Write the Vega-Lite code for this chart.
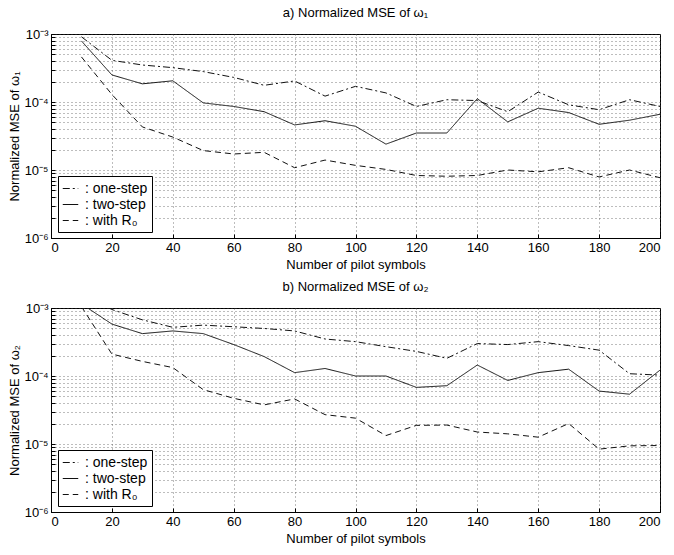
{
"$schema": "https://vega.github.io/schema/vega-lite/v6.json",
"padding": {"left": 7, "top": 6, "right": 6, "bottom": 4},
"spacing": 8,
"config": {
  "font": "Liberation Sans",
  "view": {"stroke": "black", "strokeWidth": 1},
  "title": {"fontSize": 13, "fontWeight": "normal", "offset": 8, "color": "black"},
  "axis": {"labelFontSize": 13, "titleFontSize": 13, "titleFontWeight": "normal", "labelColor": "black", "titleColor": "black", "grid": true, "gridDash": [1, 3], "gridColor": "#444", "gridWidth": 0.7, "domainColor": "black", "tickColor": "black", "tickSize": -4, "labelPadding": 7},
  "legend": {"labelFontSize": 13, "labelColor": "black"}
},
"data": {"values": [
{"p":"a","x":10,"m":"one-step","v":9.1e-4},{"p":"a","x":20,"m":"one-step","v":4.1e-4},{"p":"a","x":30,"m":"one-step","v":3.5e-4},{"p":"a","x":40,"m":"one-step","v":3.2e-4},{"p":"a","x":50,"m":"one-step","v":2.8e-4},{"p":"a","x":60,"m":"one-step","v":2.3e-4},{"p":"a","x":70,"m":"one-step","v":1.76e-4},{"p":"a","x":80,"m":"one-step","v":2.04e-4},{"p":"a","x":90,"m":"one-step","v":1.22e-4},{"p":"a","x":100,"m":"one-step","v":1.7e-4},{"p":"a","x":110,"m":"one-step","v":1.36e-4},{"p":"a","x":120,"m":"one-step","v":8.6e-5},{"p":"a","x":130,"m":"one-step","v":1.08e-4},{"p":"a","x":140,"m":"one-step","v":1.05e-4},{"p":"a","x":150,"m":"one-step","v":7.2e-5},{"p":"a","x":160,"m":"one-step","v":1.4e-4},{"p":"a","x":170,"m":"one-step","v":9.1e-5},{"p":"a","x":180,"m":"one-step","v":7.7e-5},{"p":"a","x":190,"m":"one-step","v":1.08e-4},{"p":"a","x":200,"m":"one-step","v":8.6e-5},
{"p":"a","x":10,"m":"two-step","v":7.9e-4},{"p":"a","x":20,"m":"two-step","v":2.5e-4},{"p":"a","x":30,"m":"two-step","v":1.85e-4},{"p":"a","x":40,"m":"two-step","v":2.05e-4},{"p":"a","x":50,"m":"two-step","v":9.7e-5},{"p":"a","x":60,"m":"two-step","v":8.6e-5},{"p":"a","x":70,"m":"two-step","v":7.2e-5},{"p":"a","x":80,"m":"two-step","v":4.6e-5},{"p":"a","x":90,"m":"two-step","v":5.3e-5},{"p":"a","x":100,"m":"two-step","v":4.4e-5},{"p":"a","x":110,"m":"two-step","v":2.4e-5},{"p":"a","x":120,"m":"two-step","v":3.5e-5},{"p":"a","x":130,"m":"two-step","v":3.5e-5},{"p":"a","x":140,"m":"two-step","v":1.12e-4},{"p":"a","x":150,"m":"two-step","v":5.1e-5},{"p":"a","x":160,"m":"two-step","v":8.1e-5},{"p":"a","x":170,"m":"two-step","v":7.0e-5},{"p":"a","x":180,"m":"two-step","v":4.7e-5},{"p":"a","x":190,"m":"two-step","v":5.4e-5},{"p":"a","x":200,"m":"two-step","v":6.6e-5},
{"p":"a","x":10,"m":"with R₀","v":4.6e-4},{"p":"a","x":20,"m":"with R₀","v":1.29e-4},{"p":"a","x":30,"m":"with R₀","v":4.3e-5},{"p":"a","x":40,"m":"with R₀","v":3.05e-5},{"p":"a","x":50,"m":"with R₀","v":1.93e-5},{"p":"a","x":60,"m":"with R₀","v":1.72e-5},{"p":"a","x":70,"m":"with R₀","v":1.82e-5},{"p":"a","x":80,"m":"with R₀","v":1.08e-5},{"p":"a","x":90,"m":"with R₀","v":1.4e-5},{"p":"a","x":100,"m":"with R₀","v":1.17e-5},{"p":"a","x":110,"m":"with R₀","v":1.02e-5},{"p":"a","x":120,"m":"with R₀","v":8.3e-6},{"p":"a","x":130,"m":"with R₀","v":8.1e-6},{"p":"a","x":140,"m":"with R₀","v":8.3e-6},{"p":"a","x":150,"m":"with R₀","v":1.0e-5},{"p":"a","x":160,"m":"with R₀","v":9.4e-6},{"p":"a","x":170,"m":"with R₀","v":1.08e-5},{"p":"a","x":180,"m":"with R₀","v":7.9e-6},{"p":"a","x":190,"m":"with R₀","v":1.0e-5},{"p":"a","x":200,"m":"with R₀","v":7.7e-6},
{"p":"b","x":10,"m":"one-step","v":1.6e-3},{"p":"b","x":20,"m":"one-step","v":9.5e-4},{"p":"b","x":30,"m":"one-step","v":6.7e-4},{"p":"b","x":40,"m":"one-step","v":5.2e-4},{"p":"b","x":50,"m":"one-step","v":5.6e-4},{"p":"b","x":60,"m":"one-step","v":5.3e-4},{"p":"b","x":70,"m":"one-step","v":5.0e-4},{"p":"b","x":80,"m":"one-step","v":4.6e-4},{"p":"b","x":90,"m":"one-step","v":3.5e-4},{"p":"b","x":100,"m":"one-step","v":3.2e-4},{"p":"b","x":110,"m":"one-step","v":2.7e-4},{"p":"b","x":120,"m":"one-step","v":2.3e-4},{"p":"b","x":130,"m":"one-step","v":1.82e-4},{"p":"b","x":140,"m":"one-step","v":3.0e-4},{"p":"b","x":150,"m":"one-step","v":2.9e-4},{"p":"b","x":160,"m":"one-step","v":3.2e-4},{"p":"b","x":170,"m":"one-step","v":2.8e-4},{"p":"b","x":180,"m":"one-step","v":2.4e-4},{"p":"b","x":190,"m":"one-step","v":1.08e-4},{"p":"b","x":200,"m":"one-step","v":1.03e-4},
{"p":"b","x":10,"m":"two-step","v":1.15e-3},{"p":"b","x":20,"m":"two-step","v":5.8e-4},{"p":"b","x":30,"m":"two-step","v":4.2e-4},{"p":"b","x":40,"m":"two-step","v":4.6e-4},{"p":"b","x":50,"m":"two-step","v":4.2e-4},{"p":"b","x":60,"m":"two-step","v":2.9e-4},{"p":"b","x":70,"m":"two-step","v":1.93e-4},{"p":"b","x":80,"m":"two-step","v":1.12e-4},{"p":"b","x":90,"m":"two-step","v":1.29e-4},{"p":"b","x":100,"m":"two-step","v":1.0e-4},{"p":"b","x":110,"m":"two-step","v":1.0e-4},{"p":"b","x":120,"m":"two-step","v":6.8e-5},{"p":"b","x":130,"m":"two-step","v":7.2e-5},{"p":"b","x":140,"m":"two-step","v":1.45e-4},{"p":"b","x":150,"m":"two-step","v":8.6e-5},{"p":"b","x":160,"m":"two-step","v":1.12e-4},{"p":"b","x":170,"m":"two-step","v":1.26e-4},{"p":"b","x":180,"m":"two-step","v":6.0e-5},{"p":"b","x":190,"m":"two-step","v":5.4e-5},{"p":"b","x":200,"m":"two-step","v":1.22e-4},
{"p":"b","x":10,"m":"with R₀","v":1.05e-3},{"p":"b","x":20,"m":"with R₀","v":2.1e-4},{"p":"b","x":30,"m":"with R₀","v":1.64e-4},{"p":"b","x":40,"m":"with R₀","v":1.33e-4},{"p":"b","x":50,"m":"with R₀","v":6.3e-5},{"p":"b","x":60,"m":"with R₀","v":4.7e-5},{"p":"b","x":70,"m":"with R₀","v":3.76e-5},{"p":"b","x":80,"m":"with R₀","v":4.6e-5},{"p":"b","x":90,"m":"with R₀","v":2.7e-5},{"p":"b","x":100,"m":"with R₀","v":2.4e-5},{"p":"b","x":110,"m":"with R₀","v":1.33e-5},{"p":"b","x":120,"m":"with R₀","v":1.88e-5},{"p":"b","x":130,"m":"with R₀","v":1.9e-5},{"p":"b","x":140,"m":"with R₀","v":1.5e-5},{"p":"b","x":150,"m":"with R₀","v":1.41e-5},{"p":"b","x":160,"m":"with R₀","v":1.26e-5},{"p":"b","x":170,"m":"with R₀","v":2.0e-5},{"p":"b","x":180,"m":"with R₀","v":8.4e-6},{"p":"b","x":190,"m":"with R₀","v":9.4e-6},{"p":"b","x":200,"m":"with R₀","v":9.5e-6}
]},
"vconcat": [
{
  "title": "a) Normalized MSE of ω₁",
  "width": 609, "height": 204,
  "transform": [{"filter": "datum.p == 'a'"}],
  "mark": {"type": "line", "color": "#111", "strokeWidth": 1, "clip": true},
  "encoding": {
    "x": {"field": "x", "type": "quantitative", "scale": {"domain": [0, 200], "nice": false}, "axis": {"title": "Number of pilot symbols", "values": [0,20,40,60,80,100,120,140,160,180,200], "titlePadding": 4}},
    "y": {"field": "v", "type": "quantitative", "scale": {"type": "log", "domain": [1e-6, 1e-3], "nice": false}, "axis": {"title": "Normalized MSE of ω₁", "titleX": -30, "values": [1e-6,2e-6,3e-6,4e-6,5e-6,6e-6,7e-6,8e-6,9e-6,1e-5,2e-5,3e-5,4e-5,5e-5,6e-5,7e-5,8e-5,9e-5,1e-4,2e-4,3e-4,4e-4,5e-4,6e-4,7e-4,8e-4,9e-4,1e-3], "labelExpr": "datum.value == 0.001 ? '10⁻³' : datum.value == 0.0001 ? '10⁻⁴' : datum.value == 0.00001 ? '10⁻⁵' : datum.value == 0.000001 ? '10⁻⁶' : ''"}},
    "strokeDash": {"field": "m", "type": "nominal", "scale": {"domain": ["one-step", "two-step", "with R₀"], "range": [[7,3,2,3],[1,0],[6,4]]}, "legend": {"title": null, "orient": "none", "legendX": 7, "legendY": 142, "symbolType": "stroke", "symbolSize": 240, "symbolStrokeWidth": 1.2, "symbolStrokeColor": "#111", "labelExpr": "': ' + datum.label", "strokeColor": "black", "fillColor": "white", "padding": 4, "rowPadding": 0, "labelOffset": 6, "labelFontSize": 14}}
  }
},
{
  "title": "b) Normalized MSE of ω₂",
  "width": 609, "height": 204,
  "transform": [{"filter": "datum.p == 'b'"}],
  "mark": {"type": "line", "color": "#111", "strokeWidth": 1, "clip": true},
  "encoding": {
    "x": {"field": "x", "type": "quantitative", "scale": {"domain": [0, 200], "nice": false}, "axis": {"title": "Number of pilot symbols", "values": [0,20,40,60,80,100,120,140,160,180,200], "titlePadding": 4}},
    "y": {"field": "v", "type": "quantitative", "scale": {"type": "log", "domain": [1e-6, 1e-3], "nice": false}, "axis": {"title": "Normalized MSE of ω₂", "titleX": -30, "values": [1e-6,2e-6,3e-6,4e-6,5e-6,6e-6,7e-6,8e-6,9e-6,1e-5,2e-5,3e-5,4e-5,5e-5,6e-5,7e-5,8e-5,9e-5,1e-4,2e-4,3e-4,4e-4,5e-4,6e-4,7e-4,8e-4,9e-4,1e-3], "labelExpr": "datum.value == 0.001 ? '10⁻³' : datum.value == 0.0001 ? '10⁻⁴' : datum.value == 0.00001 ? '10⁻⁵' : datum.value == 0.000001 ? '10⁻⁶' : ''"}},
    "strokeDash": {"field": "m", "type": "nominal", "scale": {"domain": ["one-step", "two-step", "with R₀"], "range": [[7,3,2,3],[1,0],[6,4]]}, "legend": {"title": null, "orient": "none", "legendX": 7, "legendY": 142, "symbolType": "stroke", "symbolSize": 240, "symbolStrokeWidth": 1.2, "symbolStrokeColor": "#111", "labelExpr": "': ' + datum.label", "strokeColor": "black", "fillColor": "white", "padding": 4, "rowPadding": 0, "labelOffset": 6, "labelFontSize": 14}}
  }
}
],
"resolve": {"legend": {"strokeDash": "independent"}, "scale": {"strokeDash": "independent"}}
}
